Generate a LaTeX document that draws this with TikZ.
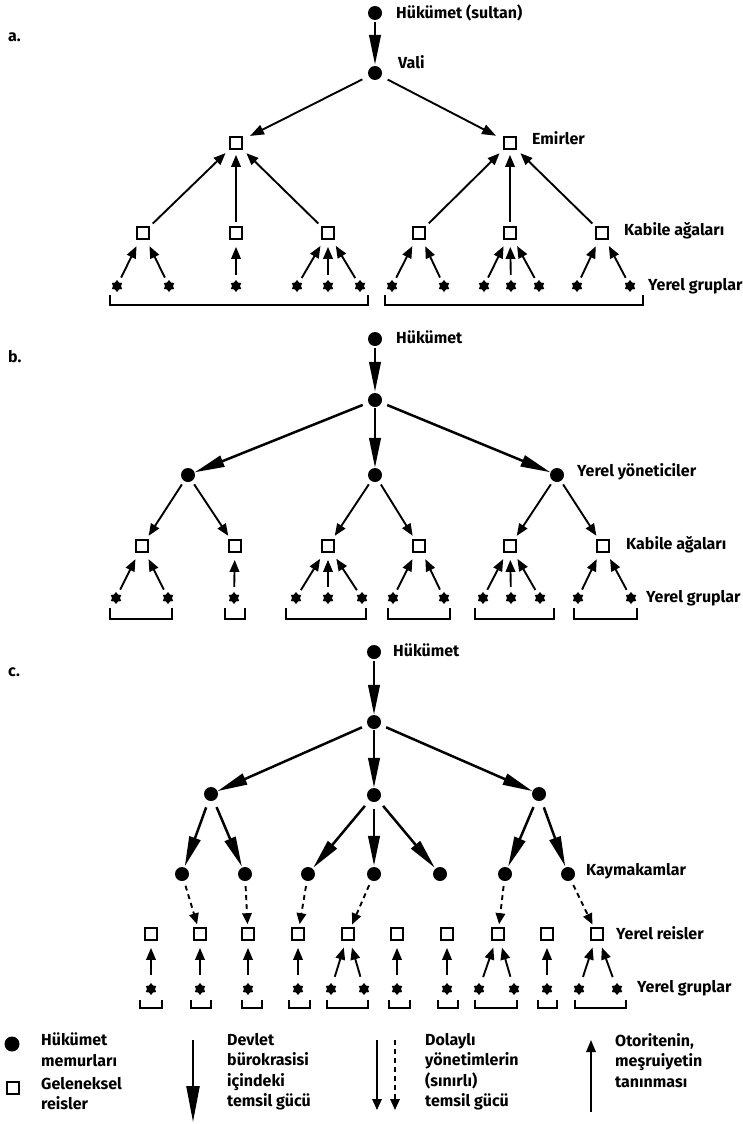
\documentclass[tikz,border=0pt]{standalone}
\usepackage{fontspec}
\setmainfont{Fira Sans}
\usetikzlibrary{arrows.meta,shapes.geometric}
\begin{document}
\begin{tikzpicture}[x=1pt,y=-1pt,
  gov/.style={circle, fill=black, inner sep=0pt, minimum size=14pt},
  chief/.style={draw=black, line width=2.2pt, inner sep=0pt, minimum size=11.5pt},
  grp/.style={star, star points=6, star point ratio=1.5, fill=black, inner sep=0pt, minimum size=12pt},
  lbl/.style={anchor=west, inner sep=0pt, font=\fontsize{16}{20}\selectfont\bfseries},
  leg/.style={anchor=north west, inner sep=0pt, align=left, font=\fontsize{16}{20.5}\selectfont\bfseries},
  bur/.style={line width=2.5pt, -{Triangle[length=30pt,width=11.5pt]}},
  rec/.style={line width=1.9pt, -{Triangle[length=12pt,width=9.5pt]}},
  ind/.style={line width=1.9pt, dash pattern=on 5pt off 4pt, -{Triangle[length=11pt,width=9.5pt]}},
  up/.style={rec, shorten <=5pt, shorten >=7pt},
  upc/.style={rec, shorten <=8pt, shorten >=7pt},
  brk/.style={line width=1.7pt}
]
\useasboundingbox (0,0) rectangle (743,1124);

% ---------------- part a ----------------
\node[lbl] (la) at (8,37) {a.};
\node[gov] (aH) at (375,13) {};
\node[gov] (aV) at (375,73) {};
\node[chief] (aE1) at (236,143) {};
\node[chief] (aE2) at (510,143) {};
\foreach \i/\x in {1/143,2/236,3/328,4/419,5/510,6/602}
  \node[chief] (aK\i) at (\x,233) {};
\foreach \i/\x in {1/117,2/169,3/236,4/297,5/328,6/360,7/392,8/444,9/484,10/511,11/539,12/577,13/630}
  \node[grp] (aS\i) at (\x,286) {};
\node[lbl] at (396,13) {Hükümet (sultan)};
\node[lbl] at (398,62) {Vali};
\node[lbl] at (532,138) {Emirler};
\node[lbl] at (624,231) {Kabile ağaları};
\node[lbl] at (648,286) {Yerel gruplar};

\draw[bur, shorten <=2pt, shorten >=1pt] (aH) -- (aV);
\draw[line width=1.9pt, -{Triangle[length=14pt,width=10pt]}, shorten <=7pt, shorten >=8pt] (aV) -- (aE1);
\draw[line width=1.9pt, -{Triangle[length=14pt,width=10pt]}, shorten <=7pt, shorten >=8pt] (aV) -- (aE2);
\foreach \k/\e in {1/1,2/1,3/1,4/2,5/2,6/2}
  \draw[rec, shorten <=4pt, shorten >=5pt] (aK\k) -- (aE\e);
\foreach \s/\k in {1/1,2/1,3/2,4/3,5/3,6/3,7/4,8/4,9/5,10/5,11/5,12/6,13/6}
  \draw[up] (aS\s) -- (aK\k);
\draw[brk] (110,295) -- (110,305) -- (368,305) -- (368,295);
\draw[brk] (385,295) -- (385,305) -- (643,305) -- (643,295);

% ---------------- part b ----------------
\node[lbl] (lb) at (8,357) {b.};
\node[gov] (bH) at (375,339) {};
\node[gov] (bM) at (375,400) {};
\node[gov] (bY1) at (188,475) {};
\node[gov] (bY2) at (375,475) {};
\node[gov] (bY3) at (557,475) {};
\foreach \i/\x in {1/142,2/235,3/328,4/419,5/510,6/603}
  \node[chief] (bK\i) at (\x,546) {};
\foreach \i/\x in {1/116,2/168,3/234,4/296,5/328,6/362,7/393,8/444,9/483,10/511,11/540,12/578,13/631}
  \node[grp] (bS\i) at (\x,598) {};
\node[lbl] at (396,337) {Hükümet};
\node[lbl] at (577,472) {Yerel yöneticiler};
\node[lbl] at (626,545) {Kabile ağaları};
\node[lbl] at (646,598) {Yerel gruplar};

\draw[bur, shorten <=2pt, shorten >=1pt] (bH) -- (bM);
\draw[bur, shorten <=6pt] (bM) -- (bY1);
\draw[bur, shorten <=1pt] (bM) -- (bY2);
\draw[bur, shorten <=6pt] (bM) -- (bY3);
\foreach \y/\k in {1/1,1/2,2/3,2/4,3/5,3/6}
  \draw[rec, shorten <=4pt, shorten >=4pt] (bY\y) -- (bK\k);
\foreach \s/\k in {1/1,2/1,3/2,4/3,5/3,6/3,7/4,8/4,9/5,10/5,11/5,12/6,13/6}
  \draw[up] (bS\s) -- (bK\k);
\foreach \a/\b in {110/172,225/245,286/366,388/450,475/554,574/637}
  \draw[brk] (\a,608) -- (\a,619) -- (\b,619) -- (\b,608);

% ---------------- part c ----------------
\node[lbl] (lc) at (8,672) {c.};
\node[gov] (cH) at (374,652) {};
\node[gov] (cM) at (374,722) {};
\node[gov] (cT1) at (211,794) {};
\node[gov] (cT2) at (374,795) {};
\node[gov] (cT3) at (539,794) {};
\foreach \i/\x in {1/182,2/245,3/308,4/374,5/440,6/505,7/568}
  \node[gov] (cK\i) at (\x,874) {};
\foreach \i/\x in {1/151,2/200,3/248,4/298,5/348,6/397,7/447,8/498,9/547,10/597}
  \node[chief] (cR\i) at (\x,934) {};
\foreach \i/\x in {1/151,2/200,3/248,4/298,5/331,6/364,7/397,8/447,9/479,10/514,11/547,12/579,13/617}
  \node[grp] (cS\i) at (\x,989) {};
\node[lbl] at (393,650) {Hükümet};
\node[lbl] at (586,871) {Kaymakamlar};
\node[lbl] at (616,933) {Yerel reisler};
\node[lbl] at (637,988) {Yerel gruplar};

\draw[bur, shorten <=2pt, shorten >=0pt] (cH) -- (cM);
\draw[bur, shorten <=6pt] (cM) -- (cT1);
\draw[bur, shorten <=1pt] (cM) -- (cT2);
\draw[bur, shorten <=6pt] (cM) -- (cT3);
\foreach \t/\k in {1/1,1/2,2/3,2/4,2/5,3/6,3/7}
  \draw[bur, shorten <=7pt, shorten >=1pt] (cT\t) -- (cK\k);
\foreach \k/\r in {1/2,2/3,3/4,4/5,6/8,7/10}
  \draw[ind, shorten <=5pt, shorten >=3pt] (cK\k) -- (cR\r);
\foreach \s/\r in {1/1,2/2,3/3,4/4,5/5,6/5,7/6,8/7,9/8,10/8,11/9,12/10,13/10}
  \draw[upc] (cS\s) -- (cR\r);
\foreach \a/\b in {140/162,191/211,242/262,289/310,327/368,389/410,438/458,475/517,538/557,575/626}
  \draw[brk] (\a,1000) -- (\a,1008) -- (\b,1008) -- (\b,1000);

% ---------------- legend ----------------
\node[gov, minimum size=15pt] (lgD) at (12,1044) {};
\node[chief] (lgS) at (13,1088) {};
\node[leg] (lgT1) at (41,1033) {Hükümet\\memurları};
\node[leg] (lgT2) at (41,1077) {Geleneksel\\reisler};
\coordinate (b1) at (193,1040);
\coordinate (b2) at (193,1122);
\draw[line width=2.3pt, -{Triangle[length=36pt,width=13pt]}] (b1) -- (b2);
\node[leg] (lgT3) at (227,1033) {Devlet\\bürokrasisi\\içindeki\\temsil gücü};
\coordinate (d1) at (377,1040);
\coordinate (d2) at (377,1110);
\coordinate (e1) at (395,1040);
\coordinate (e2) at (395,1110);
\draw[line width=1.7pt, -{Triangle[length=11pt,width=9.5pt]}] (d1) -- (d2);
\draw[line width=1.7pt, dash pattern=on 5pt off 4pt, -{Triangle[length=11pt,width=9.5pt]}] (e1) -- (e2);
\node[leg] (lgT4) at (425,1033) {Dolaylı\\yönetimlerin\\(sınırlı)\\temsil gücü};
\coordinate (u1) at (591,1112);
\coordinate (u2) at (591,1040);
\draw[line width=1.7pt, -{Triangle[length=12pt,width=9.5pt]}] (u1) -- (u2);
\node[leg] (lgT5) at (615,1033) {Otoritenin,\\meşruiyetin\\tanınması};
\end{tikzpicture}
\end{document}
